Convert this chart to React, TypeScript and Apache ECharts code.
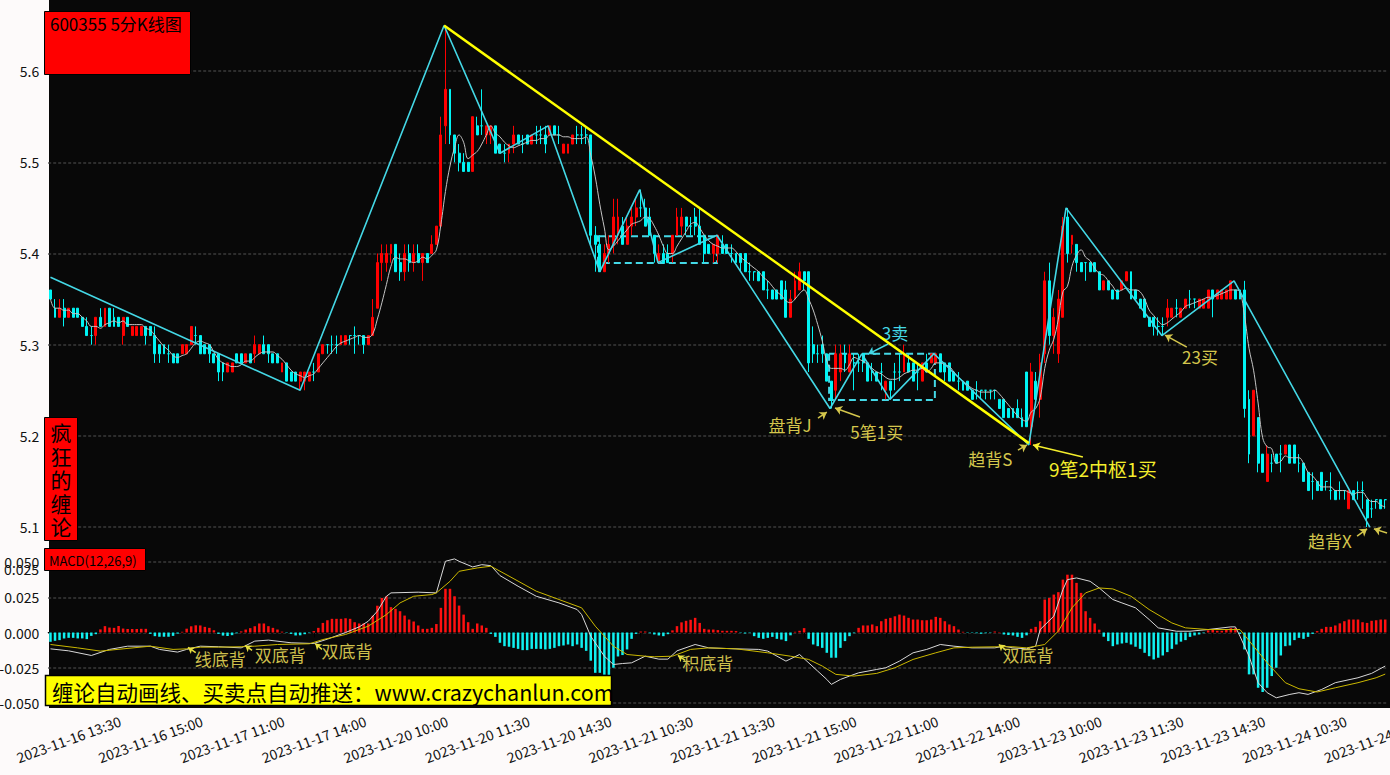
import React, { useEffect, useRef } from "react";
import * as echarts from "echarts";

const FONT = '"Noto Sans CJK SC", "Noto Sans", sans-serif';

// ---------- categories ----------
const tradingDays = ["2023-11-16", "2023-11-17", "2023-11-20", "2023-11-21", "2023-11-22", "2023-11-23", "2023-11-24"];
const firstSlot = [25, 0, 0, 0, 0, 0, 0]; // 11-16 starts at 13:10

// ---------- 5-minute K lines, in cents: [open, close, low, high] ----------
const k1116 = [
  [536,535,535,536],[534,533,533,535],[533,534,533,535],[534,533,532,535],[533,534,533,534],
  [534,533,533,534],[534,533,533,534],[533,532,532,533],[532,531,531,533],[531,531,530,532],
  [531,533,530,533],[533,532,532,534],[532,534,532,534],[534,532,532,534],[533,532,532,534],
  [533,532,532,533],[531,533,530,533],[533,532,532,533],[531,532,531,532],[531,532,531,532],
  [531,532,531,532],[532,531,530,532],[532,531,531,532],
];
const k1117 = [
  [531,529,528,532],[530,529,528,530],[530,529,529,530],[529,529,528,530],[529,528,528,529],
  [529,528,528,529],[529,530,529,530],[529,530,529,530],[530,532,530,532],[531,531,530,532],
  [531,529,529,531],[530,529,529,530],[530,529,528,530],[529,528,528,529],[529,527,526,529],
  [528,527,526,528],[527,528,527,528],[527,528,527,528],[529,528,528,529],[529,528,528,529],
  [528,529,528,529],[529,528,528,529],[529,530,528,531],[529,530,529,530],[530,529,529,531],
  [530,529,528,530],[529,528,528,529],[529,528,528,529],[527,528,527,528],[528,526,526,528],
  [527,526,526,527],[527,526,526,527],[526,527,525,527],[526,527,525,527],[526,527,526,527],
  [527,527,526,528],[527,529,527,529],[529,530,529,530],[530,530,529,530],[530,530,529,531],
  [530,530,529,531],[530,531,530,531],[530,531,530,531],[531,531,530,531],[531,531,529,532],
  [531,531,530,531],[531,530,529,531],[530,531,530,531],
];
const k1120 = [
  [531,533,531,535],[534,539,534,540],[539,540,537,541],[539,540,538,541],[540,541,539,541],
  [541,538,538,541],[539,538,537,540],[538,540,537,541],[540,539,538,541],[539,540,538,541],
  [540,539,539,541],[539,540,537,540],[540,539,539,540],[540,541,540,542],[541,543,541,543],
  [543,553,543,555],[554,558,552,565],[558,553,552,558],[553,551,550,553],[551,550,549,552],
  [550,549,549,551],[550,549,549,550],[549,555,549,555],[554,553,553,555],[554,554,553,558],
  [553,554,552,554],[553,554,552,554],[554,551,551,554],[552,551,551,552],[551,551,550,552],
  [551,552,550,552],[552,553,551,554],[553,552,552,553],[552,552,551,553],[553,552,552,553],
  [552,553,552,553],[553,553,552,554],[553,553,552,554],[553,552,551,554],[553,554,553,554],
  [554,553,553,554],[553,553,552,554],[551,552,551,552],[551,552,551,552],[552,553,552,553],
  [553,553,552,554],[553,553,552,554],[553,553,552,554],
];
const k1121 = [
  [553,542,541,553],[542,541,538,543],[541,538,538,542],[538,540,538,541],[540,541,539,542],
  [541,544,540,546],[542,544,541,546],[543,541,541,544],[541,543,541,544],[543,544,542,545],
  [544,545,543,546],[545,545,544,547],[545,543,543,546],[544,542,542,545],[542,540,539,542],
  [539,540,539,541],[540,539,539,541],[540,539,539,541],[540,542,539,542],[542,544,542,545],
  [543,544,542,545],[544,543,542,544],[543,543,542,544],[544,543,542,545],[543,541,541,545],
  [542,540,539,542],[541,540,540,541],[540,541,539,541],[540,542,539,542],[541,540,540,542],
  [541,540,540,541],[540,540,539,541],[540,539,539,540],[540,539,538,540],[540,538,538,540],
  [538,538,537,539],[538,538,537,538],[538,537,537,538],[538,536,536,538],[536,536,535,537],
  [536,535,535,536],[536,535,535,536],[537,535,535,537],[536,533,533,537],[533,535,533,536],
  [535,537,535,538],[536,538,536,539],[538,537,536,538],
];
const k1122 = [
  [538,528,527,538],[530,529,528,532],[529,529,528,530],[530,529,528,531],[529,526,526,529],
  [526,524,523,526],[525,529,524,530],[527,529,526,530],[529,528,527,530],[527,529,527,530],
  [528,528,525,529],[528,528,527,529],[529,528,527,529],[528,526,526,528],[527,527,526,528],
  [527,526,526,527],[527,527,525,528],[525,526,524,526],[526,525,524,526],[527,527,525,528],
  [527,527,526,529],[527,529,527,530],[528,527,527,529],[528,526,526,528],[527,527,525,528],
  [526,528,526,528],[528,527,527,529],[528,529,528,529],[528,529,528,529],[529,527,527,529],
  [528,527,526,528],[528,526,526,528],[527,526,526,527],[526,526,525,527],[526,525,525,526],
  [526,525,525,526],[525,524,524,525],[525,525,524,526],[525,525,524,525],[525,525,524,525],
  [525,525,524,525],[525,525,524,525],[524,523,523,524],[524,522,522,524],[523,522,522,523],
  [523,522,522,523],[523,522,522,524],[522,521,521,523],
];
const k1123 = [
  [527,521,521,527],[521,527,519,528],[526,524,524,527],[524,528,522,529],[529,537,528,538],
  [537,531,530,539],[531,533,529,534],[529,535,528,536],[533,543,533,544],[544,540,539,545],
  [541,542,540,542],[541,539,538,541],[539,538,538,539],[539,539,537,539],[539,538,538,539],
  [539,538,538,539],[538,536,536,538],[536,537,536,537],[537,536,536,537],[536,535,535,536],
  [536,535,535,536],[536,537,536,537],[537,538,537,538],[538,535,535,538],[536,535,535,536],
  [535,534,534,535],[535,533,533,535],[533,532,532,533],[533,532,531,533],[532,532,531,533],
  [532,532,531,533],[533,534,532,535],[533,534,533,534],[534,534,533,535],[533,534,533,534],
  [534,535,534,535],[535,535,534,536],[535,535,534,535],[534,535,534,535],[534,535,534,535],
  [534,536,534,536],[536,535,533,536],[535,536,535,536],[535,536,535,536],[535,536,535,536],
  [535,537,535,537],[536,535,535,536],[536,535,535,536],
];
const k1124 = [
  [536,523,522,537],[524,518,517,525],[520,525,520,525],[522,517,516,522],[518,516,516,518],
  [515,518,515,519],[517,517,516,518],[518,517,517,518],[518,518,516,519],[518,519,518,519],
  [519,517,517,519],[519,517,517,519],[517,517,516,518],[517,515,515,517],[516,514,514,516],
  [515,515,513,516],[515,514,514,515],[516,514,514,516],[515,515,514,515],[514,514,513,516],
  [514,513,513,514],[514,514,513,515],[514,514,513,514],[512,514,512,514],[514,513,513,514],
  [514,514,513,515],[514,514,512,515],[513,511,510,513],[512,512,511,513],[513,513,512,513],
  [513,512,512,513],[513,513,512,513],
];
const dayBars = [k1116, k1117, k1120, k1121, k1122, k1123, k1124];

// ---------- MACD histogram (x 0.001) ----------
const macdHist = [
  -6.6,-5.9,-5.4,-4.2,-3.8,-3.8,-4.2,-4.2,-4.7,-2.4,
  -1.2,2.2,4.5,3.5,3.3,4.6,2.8,2.5,2.5,2.5,
  2.6,2.6,-1.0,-2.6,-3.0,-3.0,-3.0,-2.4,-0.8,0.5,
  2.7,4.4,5.1,5.0,4.0,3.3,1.6,-1.0,-2.2,-2.5,
  -1.9,-0.6,0.8,2.1,3.1,4.5,6.4,6.4,4.5,3.3,
  2.1,0.6,-0.3,-1.0,-2.1,-2.0,-1.2,-0.3,1.0,3.3,
  6.8,8.7,9.7,9.7,9.7,10.1,9.7,7.3,6.4,6.4,
  6.4,12,19,24.5,25.7,18,16.8,15.1,12,9.2,
  7.8,5,2.6,2.6,3.3,6,17.5,31,31,25.7,
  19.1,12.7,7.3,2.6,6.4,5,3.3,-1.0,-3.1,-7.3,
  -9.7,-10.1,-10.9,-11.6,-12.5,-12.5,-11.6,-11.6,-11.6,-12,
  -11.6,-10.9,-9.7,-9.2,-8.5,-9.7,-8.5,-10.9,-13,-20,
  -28.6,-28.6,-30,-31,-25,-17,-16,-12,-4.5,-1,
  0.7,0.7,-0.5,-1.4,-2.1,-2.6,-1.2,1.5,4.5,7.2,
  8.3,9,10.4,6.8,2.6,2.1,2.1,1.7,1.2,1.2,
  1.2,1.0,-0.3,-0.7,-0.3,-2.6,-3.8,-4.5,-3.8,-3.1,
  -4.5,-5,-6.1,-2,0.5,1.2,3.1,-4.5,-8.5,-9.7,
  -10.9,-14.4,-17.9,-17.9,-10.9,-6.1,-2.6,-0.5,3.3,5,
  5,5.7,4.5,8,9.7,10.4,11.5,12.7,12,10.4,
  9.2,9.2,8.7,8.7,9.2,11.1,10.4,8,5.7,4.5,
  2.1,0.5,-0.3,-0.3,-0.5,-0.9,-0.5,-0.3,0.7,0.3,
  -1.4,-1.8,-2.1,-3.1,-3.8,-2.0,2.6,4,8,23.4,
  24.5,26.9,28.6,37.5,41,41,35.2,28.1,15.1,10.4,
  6.4,2,-3,-6.1,-9.7,-8.5,-7.8,-7.3,-8.5,-10.1,
  -11.6,-14.4,-16.8,-19.1,-17.9,-16.3,-13.9,-11.6,-8.5,-6.5,
  -5.4,-3.1,-2.1,-1.4,-0.5,1.5,2.1,1.2,1.2,2.1,
  3.1,3.1,-1.0,-12,-29.7,-29.7,-39.2,-42.2,-39.2,-30.9,
  -25,-16.3,-9.7,-9.2,-5.4,-3.8,-4.5,-3.1,-1.0,1.0,
  2.6,4,4,5,6.5,8,9.2,9.2,9.2,7.3,
  6.8,8.3,8.7,9.2,9.2,
];

// DIF (white) and DEA (yellow) vertices: [bar index, value x 0.001]
const difPoints = [
  [0,-11.6],[4,-13],[9,-16.3],[13,-12],[17,-9.7],[22,-9.7],[24,-12],[28,-13.9],[30,-12],[33,-9.7],
  [37,-10.1],[42,-10.9],[45,-6.1],[48,-5.4],[53,-7.3],[58,-7.8],[61,-4.7],[65,0],[68,4],[70,8],
  [72,15.1],[74,25.7],[75,28.1],[81,28.6],[85,28.1],[87,50.5],[89,52.2],[90,50.5],[93,46.5],[95,48.1],
  [97,47.4],[99,40.4],[103,32.8],[107,25.7],[112,21],[116,16.3],[117,12.7],[119,-2.6],[122,-16.8],[124,-22.7],
  [126,-22],[128,-21.5],[131,-16.8],[134,-18.9],[136,-18.9],[138,-13],[142,-8.5],[145,-10.9],[151,-11.6],[156,-12],
  [158,-13.2],[162,-20.3],[165,-15.6],[169,-27.4],[171,-33.3],[172,-36.8],[174,-33.3],[176,-30.9],[178,-28.6],[182,-26.2],
  [184,-25],[187,-20.3],[190,-14.4],[193,-12],[196,-8.5],[199,-9.7],[203,-10.9],[208,-10.9],[210,-9.7],[212,-10.9],
  [215,-11.6],[217,-9.7],[218,2.1],[221,11.6],[223,30.4],[224,37.5],[226,38.7],[229,36.3],[231,31.6],[234,23.4],
  [236,21],[239,17.5],[242,9.2],[244,3.3],[248,0.9],[251,0.9],[255,2.1],[260,4],[261,4],[262,-2.6],
  [264,-16.8],[266,-35.6],[268,-42.7],[270,-46.3],[273,-43.9],[275,-42.7],[277,-43.9],[280,-40.4],[283,-35.6],[288,-32.1],
  [291,-29],[294,-23.8],
];
const deaPoints = [
  [0,-8.5],[6,-10.9],[11,-13.2],[16,-11.6],[22,-9.7],[27,-12],[30,-11.6],[33,-10.4],[37,-10.4],[42,-10.1],
  [45,-9.7],[50,-8.5],[57,-8],[60,-5],[65,-1.4],[70,4.5],[74,12.7],[77,21],[80,25.7],[84,26.9],
  [85,28.1],[88,36.3],[90,43.4],[94,45.8],[97,47],[101,40],[107,29.3],[112,23.4],[117,17.5],[120,4.5],
  [124,-9.7],[127,-15.6],[131,-16.8],[133,-17.2],[137,-16.8],[141,-12],[145,-10.9],[151,-11.6],[158,-14.4],[163,-16.8],
  [167,-19.1],[170,-23.8],[173,-29.7],[177,-30.9],[182,-29],[186,-25],[190,-19.1],[195,-14.4],[199,-10.9],[203,-10.4],
  [209,-10.1],[212,-10.1],[215,-10.9],[219,-8.5],[222,1],[225,17.5],[228,28.1],[231,31.6],[234,30.9],[238,25.7],
  [242,16.3],[247,6.8],[250,3.3],[255,2.1],[262,2.1],[265,-9.7],[268,-21.5],[272,-35.6],[275,-39.9],[279,-42.2],
  [283,-39.2],[288,-35.6],[292,-32.1],[294,-29.5],
];

// Chan-theory strokes (bi) vertices: [bar index, price]
const biPoints = [
  [0,5.374],[55,5.25],[86.7,5.65],[99,5.51],[109.6,5.54],[121,5.38],[129.8,5.47],[133.8,5.39],[146.8,5.42],
  [171.7,5.23],[178.7,5.29],[184.9,5.24],[194.6,5.29],[215.5,5.19],[223.7,5.45],[244.8,5.31],[260.7,5.37],[290.6,5.10],
];
const trendLine = [[86.7,5.65],[215.5,5.192]];
const centerBoxes = [
  [[120.6,5.419],[146.8,5.3895]],
  [[171.5,5.29],[194.8,5.2393]],
];

const ANNO = "#d4c64c";
const CYAN_BI = "#44d8e6";
const priceLabels = [
  { text: "盘背J", at: [162.9,5.212], color: ANNO, size: 17 },
  { text: "5笔1买", at: [182,5.205], color: ANNO, size: 17 },
  { text: "3卖", at: [186,5.313], color: CYAN_BI, size: 17 },
  { text: "趋背S", at: [207,5.175], color: ANNO, size: 17 },
  { text: "9笔2中枢1买", at: [231.8,5.164], color: "#f4ee2c", size: 19 },
  { text: "23买", at: [253.2,5.2875], color: ANNO, size: 17 },
  { text: "趋背X", at: [281.8,5.085], color: ANNO, size: 17 },
];
const priceArrows = [
  { from: [169.05,5.2195], to: [171.0,5.226], curve: 0, color: ANNO },
  { from: [178.3,5.2206], to: [172.8,5.2305], curve: 0.3, color: ANNO },
  { from: [184.5,5.3007], to: [180.1,5.2897], curve: -0.3, color: CYAN_BI },
  { from: [213.1,5.1844], to: [215.1,5.19], curve: 0, color: ANNO },
  { from: [227.4,5.1768], to: [216.4,5.1899], curve: 0.15, color: "#f4ee2c" },
  { from: [250.3,5.2974], to: [245.5,5.3105], curve: 0.3, color: ANNO },
  { from: [287.8,5.09], to: [290,5.098], curve: 0, color: ANNO },
  { from: [294.4,5.0934], to: [291.5,5.098], curve: 0, color: ANNO },
];
const macdLabels = [
  { text: "线底背", at: [37.4,-18.4] },
  { text: "双底背", at: [50.6,-15.6] },
  { text: "双底背", at: [65.3,-12.7] },
  { text: "积底背", at: [144.8,-21.2] },
  { text: "双底背", at: [215.3,-15.6] },
];
// small divergence markers on the DEA line: [from, to] in [bar index, value x 0.001]
const macdMarks = [
  [[32,-14.2],[30.3,-10.6]],
  [[44.4,-12.7],[42.9,-9.2]],
  [[59.8,-12],[58.3,-7.8]],
  [[139.8,-19.8],[138.2,-16.3]],
  [[210.5,-12.7],[208.9,-8.5]],
];
const sideTitle = ["疯", "狂", "的", "缠", "论"];

// ---------- derived tables ----------
const pad = (n: number) => String(n).padStart(2, "0");
const sessionTimes: string[] = [];
for (let m = 9 * 60 + 35; m <= 11 * 60 + 30; m += 5) sessionTimes.push(`${pad(Math.floor(m / 60))}:${pad(m % 60)}`);
for (let m = 13 * 60 + 5; m <= 15 * 60; m += 5) sessionTimes.push(`${pad(Math.floor(m / 60))}:${pad(m % 60)}`);

const categories: string[] = [];
const candles: number[][] = [];
dayBars.forEach((bars, d) => {
  bars.forEach((b, j) => {
    categories.push(`${tradingDays[d]} ${sessionTimes[firstSlot[d] + j]}`);
    candles.push(b.map((v) => v / 100));
  });
});
const N = categories.length;
const closes = candles.map((c) => c[1]);
const ma5 = closes.map((_, i) => {
  const s = closes.slice(Math.max(0, i - 4), i + 1);
  return +(s.reduce((a, b) => a + b, 0) / s.length).toFixed(4);
});

const BW = 4.54;
const GL = 48.2;
const labelEvery = (idx: number) => idx % 18 === 4;

function buildOption(): any {
  return {
    animation: false,
    backgroundColor: "#fdfafa",
    grid: [
      { left: GL, top: 0, width: N * BW, height: 548, outerBoundsMode: "none", containLabel: false },
      { left: GL, top: 562, width: N * BW, height: 141, outerBoundsMode: "none", containLabel: false },
    ],
    xAxis: [
      { type: "category", gridIndex: 0, data: categories, boundaryGap: true,
        axisLine: { show: false }, axisTick: { show: false }, axisLabel: { show: false }, splitLine: { show: false } },
      { type: "value", gridIndex: 0, min: -0.5, max: N - 0.5, show: false },
      { type: "category", gridIndex: 1, data: categories, boundaryGap: true, offset: 5,
        axisLine: { show: true, lineStyle: { color: "#000", width: 1 } },
        axisTick: { show: true, alignWithLabel: true, interval: labelEvery, length: 5, lineStyle: { color: "#000" } },
        axisLabel: { interval: labelEvery, rotate: 20, align: "center", verticalAlign: "middle", margin: 31,
          color: "#111", fontSize: 14, fontFamily: FONT, hideOverlap: false },
        splitLine: { show: false } },
      { type: "value", gridIndex: 1, min: -0.5, max: N - 0.5, show: false },
    ],
    yAxis: [
      { type: "value", gridIndex: 0, min: 5.077, max: 5.678, scale: true,
        axisLine: { show: false }, axisTick: { show: false },
        axisLabel: { color: "#111", fontSize: 14, fontFamily: FONT, margin: 9,
          showMinLabel: false, showMaxLabel: false, formatter: (v: number) => v.toFixed(1) },
        splitLine: { show: true, showMinLine: false, showMaxLine: false,
          lineStyle: { color: "#3a3a3a", type: [3, 2], width: 1.5 } } },
      { type: "value", gridIndex: 1, min: -0.05, max: 0.05, interval: 0.025,
        axisLine: { show: false }, axisTick: { show: false },
        axisLabel: { color: "#111", fontSize: 14, fontFamily: FONT, margin: 9, formatter: (v: number) => v.toFixed(3) },
        splitLine: { show: true, lineStyle: { color: "#3a3a3a", type: [3, 2], width: 1.5 } } },
    ],
    series: [
      { type: "candlestick", name: "K", xAxisIndex: 0, yAxisIndex: 0, data: candles, barWidth: 2.4,
        itemStyle: { color: "#ff0000", color0: "#00f4f4", borderColor: "#ff0000", borderColor0: "#00f4f4",
          borderColorDoji: "#00f4f4", borderWidth: 1 } },
      { type: "line", name: "MA5", xAxisIndex: 0, yAxisIndex: 0, data: ma5, symbol: "none", smooth: 0.4,
        lineStyle: { color: "#c4c4c4", width: 1 }, z: 3 },
      { type: "line", name: "bi", xAxisIndex: 1, yAxisIndex: 0, data: biPoints, symbol: "none",
        lineStyle: { color: CYAN_BI, width: 1.6 }, z: 4,
        markArea: { silent: true, itemStyle: { color: "rgba(0,0,0,0)", borderColor: CYAN_BI, borderWidth: 2, borderType: [7, 4] },
          data: centerBoxes.map(([a, b]) => [{ coord: a }, { coord: b }]) },
        markPoint: { silent: true, symbol: "circle", symbolSize: 0.1, itemStyle: { color: "rgba(0,0,0,0)" },
          data: priceLabels.map((p) => ({ coord: p.at, value: 0,
            label: { show: true, position: "inside", formatter: p.text, color: p.color, fontSize: p.size, fontFamily: FONT } })) },
        markLine: { silent: true, symbol: ["none", "arrow"], symbolSize: 7, label: { show: false },
          data: priceArrows.map((a) => [
            { coord: a.from, lineStyle: { color: a.color, width: 1.5, type: "solid", curveness: a.curve } },
            { coord: a.to },
          ]) } },
      { type: "line", name: "trend", xAxisIndex: 1, yAxisIndex: 0, data: trendLine, symbol: "none",
        lineStyle: { color: "#ffff00", width: 2.5 }, z: 5 },
      { type: "bar", name: "MACD", xAxisIndex: 2, yAxisIndex: 1, barWidth: 2.5,
        data: macdHist.map((v) => ({ value: v / 1000, itemStyle: { color: v >= 0 ? "#ff1010" : "#10f0f0" } })) },
      { type: "line", name: "DIF", xAxisIndex: 3, yAxisIndex: 1, clip: false, symbol: "none",
        data: difPoints.map(([i, v]) => [i, v / 1000]), lineStyle: { color: "#d8d8d8", width: 1 }, z: 4 },
      { type: "line", name: "DEA", xAxisIndex: 3, yAxisIndex: 1, clip: false, symbol: "none",
        data: deaPoints.map(([i, v]) => [i, v / 1000]), lineStyle: { color: "#cbb800", width: 1 }, z: 4,
        markPoint: { silent: true, symbol: "circle", symbolSize: 0.1, itemStyle: { color: "rgba(0,0,0,0)" },
          data: macdLabels.map((p) => ({ coord: [p.at[0], p.at[1] / 1000], value: 0,
            label: { show: true, position: "inside", formatter: p.text, color: "#cdbf4c", fontSize: 17, fontFamily: FONT } })) },
        markLine: { silent: true, symbol: ["none", "arrow"], symbolSize: 6, label: { show: false },
          lineStyle: { color: "#e8e040", width: 1.5, type: "solid" },
          data: macdMarks.map(([a, b]) => [{ coord: [a[0], a[1] / 1000] }, { coord: [b[0], b[1] / 1000] }]) } },
    ],
    graphic: [
      { type: "rect", z: -10, silent: true, shape: { x: 49, y: 0, width: 1345, height: 708 }, style: { fill: "#080808" } },
      { type: "rect", z: 100, shape: { x: 44.5, y: 11.5, width: 146, height: 63 }, style: { fill: "#ff0000", stroke: "#000", lineWidth: 1 } },
      { type: "text", z: 101, x: 50, y: 15, style: { text: "600355 5分K线图", fill: "#000", font: `17px ${FONT}`,
        textAlign: "left", align: "left", textVerticalAlign: "top", verticalAlign: "top" } },
      { type: "rect", z: 100, shape: { x: 44.5, y: 417.5, width: 33, height: 123 }, style: { fill: "#ff0000", stroke: "#000", lineWidth: 1 } },
      ...sideTitle.map((ch, k) => ({ type: "text", z: 101, x: 61, y: 432 + k * 23.6,
        style: { text: ch, fill: "#000", font: `21px ${FONT}`,
          textAlign: "center", align: "center", textVerticalAlign: "middle", verticalAlign: "middle" } })),
      { type: "rect", z: 100, shape: { x: 44.5, y: 548.5, width: 101, height: 22 }, style: { fill: "#ff0000", stroke: "#000", lineWidth: 1 } },
      { type: "text", z: 101, x: 49, y: 560, style: { text: "MACD(12,26,9)", fill: "#000", font: `13px ${FONT}`,
        textAlign: "left", align: "left", textVerticalAlign: "middle", verticalAlign: "middle" } },
      { type: "text", z: 101, x: 39, y: 569, style: { text: "0.025", fill: "#111", font: `14px ${FONT}`,
        textAlign: "right", align: "right", textVerticalAlign: "middle", verticalAlign: "middle" } },
      { type: "rect", z: 100, shape: { x: 45.5, y: 675.5, width: 566, height: 30 }, style: { fill: "#ffff00", stroke: "#000", lineWidth: 1.5 } },
      { type: "text", z: 101, x: 52, y: 691, style: { text: "缠论自动画线、买卖点自动推送：www.crazychanlun.com", fill: "#000",
        font: `21.5px ${FONT}`, textAlign: "left", align: "left", textVerticalAlign: "middle", verticalAlign: "middle" } },
    ],
  };
}

export default function App() {
  const ref = useRef<HTMLDivElement>(null);
  useEffect(() => {
    const chart = echarts.init(ref.current!, null, { renderer: "svg" });
    chart.setOption(buildOption());
    return () => chart.dispose();
  }, []);
  return (
    <div
      ref={ref}
      style={{ position: "absolute", left: 0, top: 0, width: 1390, height: 775, background: "#fdfafa" }}
    />
  );
}
